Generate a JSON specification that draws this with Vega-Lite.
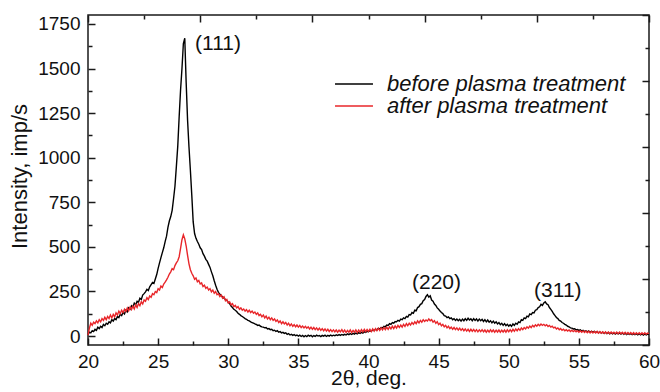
{
"$schema":"https://vega.github.io/schema/vega-lite/v6.json",
"width":561,"height":330,
"autosize":{"type":"none"},
"padding":{"left":88,"top":15,"right":11,"bottom":47},
"background":"white",
"config":{"view":{"stroke":"#1a1a1a","strokeWidth":1.5},"font":"Liberation Sans",
"axis":{"grid":false,"domain":false,"tickColor":"#1a1a1a","tickWidth":1.5,"labelFont":"Liberation Sans","labelColor":"#111111","labelFontSize":19,"titleFont":"Liberation Sans","titleFontSize":21,"titleFontWeight":"normal","titleColor":"#111111","labelFlush":false,"labelOverlap":false}},
"datasets":{
"xrd":[
{"x":20.0,"b":8,"a":5},{"x":20.1,"b":22,"a":45},{"x":20.2,"b":18,"a":72},{"x":20.3,"b":30,"a":60},{"x":20.4,"b":25,"a":78},{"x":20.5,"b":38,"a":70},{"x":20.6,"b":32,"a":85},{"x":20.7,"b":50,"a":74},{"x":20.8,"b":42,"a":92},{"x":20.9,"b":55,"a":80},
{"x":21.0,"b":48,"a":98},{"x":21.1,"b":65,"a":88},{"x":21.2,"b":58,"a":105},{"x":21.3,"b":72,"a":92},{"x":21.4,"b":66,"a":110},{"x":21.5,"b":80,"a":98},{"x":21.6,"b":74,"a":118},{"x":21.7,"b":92,"a":102},{"x":21.8,"b":84,"a":122},{"x":21.9,"b":98,"a":108},
{"x":22.0,"b":92,"a":130},{"x":22.1,"b":110,"a":118},{"x":22.2,"b":104,"a":140},{"x":22.3,"b":122,"a":126},{"x":22.4,"b":115,"a":145},{"x":22.5,"b":132,"a":132},{"x":22.6,"b":124,"a":150},{"x":22.7,"b":145,"a":138},{"x":22.8,"b":136,"a":158},{"x":22.9,"b":158,"a":142},
{"x":23.0,"b":150,"a":162},{"x":23.1,"b":170,"a":148},{"x":23.2,"b":162,"a":168},{"x":23.3,"b":185,"a":152},{"x":23.4,"b":176,"a":175},{"x":23.5,"b":195,"a":160},{"x":23.6,"b":190,"a":182},{"x":23.7,"b":212,"a":170},{"x":23.8,"b":205,"a":192},{"x":23.9,"b":230,"a":180},
{"x":24.0,"b":238,"a":202},{"x":24.1,"b":248,"a":195},{"x":24.2,"b":262,"a":215},{"x":24.3,"b":255,"a":205},{"x":24.4,"b":276,"a":225},{"x":24.5,"b":288,"a":218},{"x":24.6,"b":300,"a":238},{"x":24.7,"b":295,"a":232},{"x":24.8,"b":320,"a":250},{"x":24.9,"b":345,"a":244},
{"x":25.0,"b":380,"a":265},{"x":25.1,"b":410,"a":258},{"x":25.2,"b":440,"a":280},{"x":25.3,"b":468,"a":272},{"x":25.4,"b":495,"a":292},{"x":25.5,"b":530,"a":302},{"x":25.6,"b":560,"a":315},{"x":25.7,"b":610,"a":330},{"x":25.8,"b":645,"a":348},{"x":25.9,"b":670,"a":360},
{"x":26.0,"b":705,"a":378},{"x":26.1,"b":770,"a":372},{"x":26.2,"b":840,"a":395},{"x":26.3,"b":950,"a":410},{"x":26.4,"b":1065,"a":422},{"x":26.5,"b":1230,"a":445},{"x":26.6,"b":1380,"a":492},{"x":26.7,"b":1500,"a":540},{"x":26.8,"b":1640,"a":568},{"x":26.9,"b":1670,"a":545},
{"x":27.0,"b":1420,"a":505},{"x":27.1,"b":1210,"a":452},{"x":27.2,"b":1060,"a":405},{"x":27.3,"b":930,"a":372},{"x":27.4,"b":790,"a":352},{"x":27.5,"b":640,"a":338},{"x":27.6,"b":575,"a":318},{"x":27.7,"b":548,"a":326},{"x":27.8,"b":530,"a":305},{"x":27.9,"b":515,"a":312},
{"x":28.0,"b":495,"a":292},{"x":28.1,"b":485,"a":298},{"x":28.2,"b":462,"a":278},{"x":28.3,"b":448,"a":285},{"x":28.4,"b":430,"a":268},{"x":28.5,"b":420,"a":275},{"x":28.6,"b":402,"a":258},{"x":28.7,"b":385,"a":266},{"x":28.8,"b":360,"a":248},{"x":28.9,"b":338,"a":258},
{"x":29.0,"b":310,"a":240},{"x":29.1,"b":285,"a":250},{"x":29.2,"b":262,"a":232},{"x":29.3,"b":245,"a":238},{"x":29.4,"b":235,"a":222},{"x":29.5,"b":225,"a":230},{"x":29.6,"b":220,"a":212},{"x":29.7,"b":212,"a":220},{"x":29.8,"b":205,"a":198},{"x":29.9,"b":200,"a":205},
{"x":30.0,"b":190,"a":185},{"x":30.1,"b":182,"a":192},{"x":30.2,"b":168,"a":175},{"x":30.3,"b":160,"a":182},{"x":30.4,"b":150,"a":165},{"x":30.5,"b":145,"a":172},{"x":30.6,"b":138,"a":158},{"x":30.7,"b":128,"a":165},{"x":30.8,"b":122,"a":150},{"x":30.9,"b":115,"a":158},
{"x":31.0,"b":110,"a":145},{"x":31.1,"b":104,"a":152},{"x":31.2,"b":98,"a":140},{"x":31.3,"b":94,"a":148},{"x":31.4,"b":88,"a":135},{"x":31.5,"b":85,"a":145},{"x":31.6,"b":80,"a":132},{"x":31.7,"b":76,"a":140},{"x":31.8,"b":72,"a":128},{"x":31.9,"b":68,"a":135},
{"x":32.0,"b":65,"a":122},{"x":32.1,"b":60,"a":130},{"x":32.2,"b":62,"a":115},{"x":32.3,"b":55,"a":122},{"x":32.4,"b":52,"a":108},{"x":32.5,"b":50,"a":118},{"x":32.6,"b":46,"a":102},{"x":32.7,"b":48,"a":112},{"x":32.8,"b":40,"a":96},{"x":32.9,"b":42,"a":106},
{"x":33.0,"b":36,"a":92},{"x":33.1,"b":38,"a":102},{"x":33.2,"b":30,"a":88},{"x":33.3,"b":33,"a":96},{"x":33.4,"b":26,"a":82},{"x":33.5,"b":30,"a":90},{"x":33.6,"b":22,"a":76},{"x":33.7,"b":25,"a":85},{"x":33.8,"b":18,"a":70},{"x":33.9,"b":21,"a":80},
{"x":34.0,"b":15,"a":68},{"x":34.1,"b":18,"a":76},{"x":34.2,"b":10,"a":62},{"x":34.3,"b":14,"a":72},{"x":34.4,"b":6,"a":58},{"x":34.5,"b":10,"a":68},{"x":34.6,"b":4,"a":55},{"x":34.7,"b":8,"a":64},{"x":34.8,"b":2,"a":52},{"x":34.9,"b":6,"a":62},
{"x":35.0,"b":0,"a":50},{"x":35.1,"b":5,"a":60},{"x":35.2,"b":-2,"a":48},{"x":35.3,"b":4,"a":56},{"x":35.4,"b":-4,"a":46},{"x":35.5,"b":3,"a":55},{"x":35.6,"b":-3,"a":44},{"x":35.7,"b":5,"a":52},{"x":35.8,"b":0,"a":40},{"x":35.9,"b":4,"a":50},
{"x":36.0,"b":-4,"a":38},{"x":36.1,"b":3,"a":48},{"x":36.2,"b":-2,"a":36},{"x":36.3,"b":5,"a":46},{"x":36.4,"b":0,"a":34},{"x":36.5,"b":3,"a":44},{"x":36.6,"b":-3,"a":32},{"x":36.7,"b":4,"a":42},{"x":36.8,"b":0,"a":30},{"x":36.9,"b":5,"a":40},
{"x":37.0,"b":-2,"a":28},{"x":37.1,"b":4,"a":38},{"x":37.2,"b":0,"a":26},{"x":37.3,"b":6,"a":36},{"x":37.4,"b":1,"a":25},{"x":37.5,"b":5,"a":35},{"x":37.6,"b":2,"a":24},{"x":37.7,"b":7,"a":34},{"x":37.8,"b":3,"a":22},{"x":37.9,"b":8,"a":33},
{"x":38.0,"b":4,"a":24},{"x":38.1,"b":9,"a":36},{"x":38.2,"b":5,"a":22},{"x":38.3,"b":10,"a":34},{"x":38.4,"b":6,"a":20},{"x":38.5,"b":12,"a":32},{"x":38.6,"b":8,"a":22},{"x":38.7,"b":14,"a":35},{"x":38.8,"b":9,"a":20},{"x":38.9,"b":15,"a":32},
{"x":39.0,"b":11,"a":22},{"x":39.1,"b":17,"a":35},{"x":39.2,"b":12,"a":20},{"x":39.3,"b":19,"a":34},{"x":39.4,"b":15,"a":22},{"x":39.5,"b":21,"a":36},{"x":39.6,"b":17,"a":24},{"x":39.7,"b":24,"a":38},{"x":39.8,"b":20,"a":25},{"x":39.9,"b":27,"a":37},
{"x":40.0,"b":24,"a":26},{"x":40.1,"b":30,"a":38},{"x":40.2,"b":27,"a":25},{"x":40.3,"b":34,"a":40},{"x":40.4,"b":31,"a":28},{"x":40.5,"b":38,"a":42},{"x":40.6,"b":35,"a":30},{"x":40.7,"b":43,"a":44},{"x":40.8,"b":40,"a":32},{"x":40.9,"b":48,"a":46},
{"x":41.0,"b":46,"a":34},{"x":41.1,"b":55,"a":48},{"x":41.2,"b":52,"a":36},{"x":41.3,"b":62,"a":50},{"x":41.4,"b":60,"a":38},{"x":41.5,"b":70,"a":52},{"x":41.6,"b":66,"a":40},{"x":41.7,"b":76,"a":55},{"x":41.8,"b":72,"a":42},{"x":41.9,"b":82,"a":57},
{"x":42.0,"b":80,"a":45},{"x":42.1,"b":88,"a":60},{"x":42.2,"b":84,"a":48},{"x":42.3,"b":95,"a":62},{"x":42.4,"b":92,"a":50},{"x":42.5,"b":102,"a":66},{"x":42.6,"b":98,"a":54},{"x":42.7,"b":110,"a":70},{"x":42.8,"b":106,"a":58},{"x":42.9,"b":120,"a":72},
{"x":43.0,"b":118,"a":62},{"x":43.1,"b":132,"a":76},{"x":43.2,"b":128,"a":66},{"x":43.3,"b":145,"a":80},{"x":43.4,"b":142,"a":70},{"x":43.5,"b":160,"a":85},{"x":43.6,"b":165,"a":74},{"x":43.7,"b":178,"a":88},{"x":43.8,"b":182,"a":78},{"x":43.9,"b":198,"a":92},
{"x":44.0,"b":205,"a":82},{"x":44.1,"b":222,"a":90},{"x":44.2,"b":232,"a":84},{"x":44.3,"b":218,"a":96},{"x":44.4,"b":226,"a":86},{"x":44.5,"b":202,"a":92},{"x":44.6,"b":195,"a":78},{"x":44.7,"b":180,"a":86},{"x":44.8,"b":172,"a":72},{"x":44.9,"b":158,"a":80},
{"x":45.0,"b":150,"a":64},{"x":45.1,"b":140,"a":72},{"x":45.2,"b":132,"a":58},{"x":45.3,"b":126,"a":66},{"x":45.4,"b":115,"a":52},{"x":45.5,"b":112,"a":60},{"x":45.6,"b":104,"a":46},{"x":45.7,"b":108,"a":55},{"x":45.8,"b":98,"a":42},{"x":45.9,"b":102,"a":50},
{"x":46.0,"b":92,"a":38},{"x":46.1,"b":98,"a":48},{"x":46.2,"b":88,"a":36},{"x":46.3,"b":96,"a":46},{"x":46.4,"b":86,"a":34},{"x":46.5,"b":94,"a":44},{"x":46.6,"b":84,"a":32},{"x":46.7,"b":95,"a":42},{"x":46.8,"b":86,"a":30},{"x":46.9,"b":98,"a":40},
{"x":47.0,"b":88,"a":28},{"x":47.1,"b":100,"a":38},{"x":47.2,"b":90,"a":26},{"x":47.3,"b":97,"a":38},{"x":47.4,"b":86,"a":27},{"x":47.5,"b":98,"a":37},{"x":47.6,"b":88,"a":25},{"x":47.7,"b":96,"a":36},{"x":47.8,"b":84,"a":24},{"x":47.9,"b":95,"a":35},
{"x":48.0,"b":86,"a":25},{"x":48.1,"b":94,"a":36},{"x":48.2,"b":82,"a":24},{"x":48.3,"b":92,"a":34},{"x":48.4,"b":80,"a":22},{"x":48.5,"b":90,"a":33},{"x":48.6,"b":78,"a":23},{"x":48.7,"b":86,"a":35},{"x":48.8,"b":74,"a":24},{"x":48.9,"b":84,"a":34},
{"x":49.0,"b":72,"a":22},{"x":49.1,"b":80,"a":33},{"x":49.2,"b":68,"a":23},{"x":49.3,"b":76,"a":34},{"x":49.4,"b":64,"a":22},{"x":49.5,"b":72,"a":33},{"x":49.6,"b":60,"a":23},{"x":49.7,"b":70,"a":34},{"x":49.8,"b":58,"a":22},{"x":49.9,"b":66,"a":35},
{"x":50.0,"b":56,"a":24},{"x":50.1,"b":64,"a":36},{"x":50.2,"b":55,"a":25},{"x":50.3,"b":68,"a":38},{"x":50.4,"b":60,"a":27},{"x":50.5,"b":72,"a":40},{"x":50.6,"b":66,"a":30},{"x":50.7,"b":80,"a":42},{"x":50.8,"b":76,"a":32},{"x":50.9,"b":92,"a":45},
{"x":51.0,"b":88,"a":36},{"x":51.1,"b":102,"a":48},{"x":51.2,"b":98,"a":40},{"x":51.3,"b":112,"a":52},{"x":51.4,"b":108,"a":44},{"x":51.5,"b":124,"a":56},{"x":51.6,"b":120,"a":48},{"x":51.7,"b":132,"a":60},{"x":51.8,"b":130,"a":52},{"x":51.9,"b":145,"a":63},
{"x":52.0,"b":148,"a":55},{"x":52.1,"b":160,"a":66},{"x":52.2,"b":164,"a":58},{"x":52.3,"b":178,"a":68},{"x":52.4,"b":172,"a":60},{"x":52.5,"b":186,"a":66},{"x":52.6,"b":192,"a":58},{"x":52.7,"b":180,"a":64},{"x":52.8,"b":176,"a":54},{"x":52.9,"b":160,"a":60},
{"x":53.0,"b":150,"a":50},{"x":53.1,"b":138,"a":55},{"x":53.2,"b":125,"a":46},{"x":53.3,"b":115,"a":50},{"x":53.4,"b":104,"a":40},{"x":53.5,"b":98,"a":46},{"x":53.6,"b":88,"a":36},{"x":53.7,"b":84,"a":42},{"x":53.8,"b":76,"a":32},{"x":53.9,"b":72,"a":38},
{"x":54.0,"b":66,"a":30},{"x":54.1,"b":62,"a":36},{"x":54.2,"b":55,"a":28},{"x":54.3,"b":52,"a":34},{"x":54.4,"b":46,"a":26},{"x":54.5,"b":45,"a":33},{"x":54.6,"b":40,"a":25},{"x":54.7,"b":41,"a":32},{"x":54.8,"b":35,"a":24},{"x":54.9,"b":37,"a":30},
{"x":55.0,"b":32,"a":22},{"x":55.1,"b":35,"a":30},{"x":55.2,"b":28,"a":21},{"x":55.3,"b":32,"a":29},{"x":55.4,"b":26,"a":20},{"x":55.5,"b":30,"a":28},{"x":55.6,"b":24,"a":19},{"x":55.7,"b":29,"a":27},{"x":55.8,"b":22,"a":18},{"x":55.9,"b":27,"a":27},
{"x":56.0,"b":22,"a":18},{"x":56.1,"b":26,"a":26},{"x":56.2,"b":20,"a":17},{"x":56.3,"b":25,"a":26},{"x":56.4,"b":18,"a":16},{"x":56.5,"b":23,"a":25},{"x":56.6,"b":17,"a":16},{"x":56.7,"b":22,"a":24},{"x":56.8,"b":15,"a":15},{"x":56.9,"b":21,"a":24},
{"x":57.0,"b":14,"a":15},{"x":57.1,"b":20,"a":23},{"x":57.2,"b":13,"a":14},{"x":57.3,"b":19,"a":23},{"x":57.4,"b":12,"a":14},{"x":57.5,"b":18,"a":22},{"x":57.6,"b":11,"a":13},{"x":57.7,"b":18,"a":22},{"x":57.8,"b":12,"a":13},{"x":57.9,"b":17,"a":22},
{"x":58.0,"b":11,"a":13},{"x":58.1,"b":17,"a":21},{"x":58.2,"b":10,"a":12},{"x":58.3,"b":16,"a":21},{"x":58.4,"b":9,"a":12},{"x":58.5,"b":15,"a":20},{"x":58.6,"b":9,"a":12},{"x":58.7,"b":14,"a":20},{"x":58.8,"b":8,"a":11},{"x":58.9,"b":14,"a":20},
{"x":59.0,"b":8,"a":11},{"x":59.1,"b":13,"a":19},{"x":59.2,"b":7,"a":11},{"x":59.3,"b":13,"a":19},{"x":59.4,"b":7,"a":10},{"x":59.5,"b":12,"a":18},{"x":59.6,"b":6,"a":10},{"x":59.7,"b":12,"a":18},{"x":59.8,"b":6,"a":10},{"x":59.9,"b":11,"a":17},
{"x":60.0,"b":8,"a":14}
],
"ann":[
{"x":29.27,"y":1637,"label":"(111)"},
{"x":44.85,"y":297,"label":"(220)"},
{"x":53.5,"y":253,"label":"(311)"}
]},
"resolve":{"axis":{"x":"independent","y":"independent"}},
"layer":[
{"data":{"name":"xrd"},
"transform":[{"fold":["b","a"],"as":["s","y"]}],
"mark":{"type":"line","strokeWidth":1.4},
"encoding":{
"x":{"field":"x","type":"quantitative","scale":{"domain":[20,60],"nice":false,"zero":false},
"axis":{"orient":"bottom","values":[20,25,30,35,40,45,50,55,60],"format":"d","tickSize":-7,"labelPadding":14,"title":"2θ, deg.","titlePadding":-4}},
"y":{"field":"y","type":"quantitative","scale":{"domain":[-50,1800],"nice":false,"zero":false},
"axis":{"orient":"left","values":[0,250,500,750,1000,1250,1500,1750],"format":"d","tickSize":-7,"labelPadding":15,"title":"Intensity, imp/s","titleFontSize":22,"titlePadding":6,"titleY":161}},
"color":{"field":"s","type":"nominal","scale":{"domain":["b","a"],"range":["#000000","#e8262a"]},
"legend":{"orient":"none","legendX":255,"legendY":58,"title":null,"symbolType":"M-3,0H3","symbolSize":160,"symbolStrokeWidth":1.5,"labelFontSize":22,"labelFontStyle":"italic","labelFont":"Liberation Sans","labelColor":"#111111","labelOffset":22,"labelLimit":0,"rowPadding":-3.5,"padding":0,
"labelExpr":"datum.value == 'b' ? 'before plasma treatment' : 'after plasma treatment'"}}
}},
{"data":{"name":"ann"},
"mark":{"type":"text","fontSize":21,"font":"Liberation Sans","color":"#111111","align":"center","baseline":"middle"},
"encoding":{
"x":{"field":"x","type":"quantitative","axis":{"orient":"bottom","values":[22.5,27.5,32.5,37.5,42.5,47.5,52.5,57.5],"tickSize":-4,"labels":false,"title":null}},
"y":{"field":"y","type":"quantitative","axis":{"orient":"left","values":[125,375,625,875,1125,1375,1625],"tickSize":-4,"labels":false,"title":null}},
"text":{"field":"label"}}},
{"data":{"name":"ann"},
"mark":{"type":"point","opacity":0},
"encoding":{
"x":{"field":"x","type":"quantitative","axis":{"orient":"top","values":[20,28,36,44,52,60],"tickSize":-7,"labels":false,"title":null}},
"y":{"field":"y","type":"quantitative","axis":{"orient":"right","values":[-50,320,690,1060,1430,1800],"tickSize":-7,"labels":false,"title":null}}}},
{"data":{"name":"ann"},
"mark":{"type":"point","opacity":0},
"encoding":{
"x":{"field":"x","type":"quantitative","axis":{"orient":"top","values":[24,32,40,48,56],"tickSize":-4,"labels":false,"title":null}},
"y":{"field":"y","type":"quantitative","axis":{"orient":"right","values":[135,505,875,1245,1615],"tickSize":-4,"labels":false,"title":null}}}}
]
}
